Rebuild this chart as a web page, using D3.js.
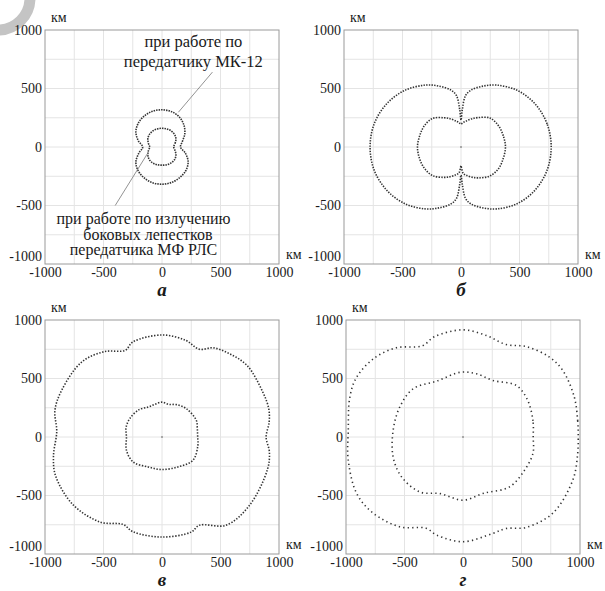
<!DOCTYPE html>
<html>
<head>
<meta charset="utf-8">
<script src="https://cdn.jsdelivr.net/npm/d3@7"></script>
</head>
<body style="margin:0">
<div id="chart"></div>
<script>
// axis values, km
var tickValues = [-1000, -500, 0, 500, 1000];
var gridValues = [-750, -500, -250, 0, 250, 500, 750];
var panelLetters = ["а", "б", "в", "г"];
var unitLabel = "км";
var origin = [[0, 0]];

// panel а: zone boundaries, polar angle (deg) -> range (km)
var aDeg = [0, 15, 30, 45, 60, 75, 90, 105, 120, 135, 150, 165, 180, 195, 210, 225, 240, 255, 270, 285, 300, 315, 330, 345];
var aOuterKm = [158, 180, 225, 265, 296, 313, 318, 316, 305, 287, 258, 210, 165, 205, 258, 288, 305, 316, 318, 314, 302, 287, 258, 208];
var aInnerKm = [100, 115, 138, 152, 158, 160, 160, 160, 158, 152, 140, 120, 105, 120, 140, 153, 158, 157, 155, 157, 157, 152, 138, 115];

// panel б
var bDeg = [0, 15, 30, 45, 60, 70, 80, 85, 88, 90, 92, 95, 100, 110, 120, 135, 150, 165, 180, 195, 210, 225, 240, 250, 260, 265, 268, 270, 272, 275, 280, 290, 300, 315, 330, 345];
var bOuterKm = [771, 762, 733, 683, 611, 554, 494, 440, 320, 230, 320, 440, 494, 554, 611, 683, 735, 768, 777, 768, 735, 683, 611, 554, 494, 440, 320, 240, 320, 440, 494, 554, 611, 683, 733, 762];
var bInnerKm = [380, 374, 368, 350, 290, 255, 223, 210, 200, 195, 200, 210, 223, 255, 288, 345, 362, 366, 372, 368, 362, 345, 300, 270, 240, 225, 190, 160, 190, 228, 244, 275, 305, 350, 370, 374];

// panel в
var vOuterDeg = [0, 8, 15, 24, 40, 51, 60, 67, 76, 90, 107, 113, 124, 137, 155, 166, 177, 190, 200, 217, 234, 246, 253, 270, 287, 293, 306, 322, 343, 352];
var vOuterKm = [890, 925, 944, 943, 950, 916, 880, 815, 850, 872, 850, 805, 880, 939, 946, 943, 901, 942, 968, 956, 899, 818, 847, 855, 850, 819, 932, 949, 943, 927];
var vInnerDeg = [0, 15, 26, 49, 66, 78, 90, 103, 115, 130, 150, 165, 180, 200, 221, 245, 270, 298, 323, 347];
var vInnerKm = [305, 312, 326, 319, 303, 285, 298, 285, 282, 305, 317, 318, 304, 324, 326, 282, 278, 290, 331, 315];

// panel г
var gOuterDeg = [0, 8, 20, 34, 43, 55, 65, 77, 90, 106, 114, 127, 139, 151, 161, 177, 191, 208, 220, 235, 248, 255, 270, 287, 295, 305, 320, 339, 352];
var gOuterKm = [985, 990, 1011, 1025, 1005, 943, 872, 890, 916, 891, 853, 954, 1017, 1043, 1024, 982, 1000, 1029, 1007, 938, 841, 868, 895, 863, 864, 943, 1007, 1008, 990];
var gInnerDeg = [0, 13, 30, 44, 62, 78, 92, 115, 136, 155, 175, 196, 213, 232, 248, 270, 290, 313, 332, 347];
var gInnerKm = [600, 614, 636, 634, 547, 552, 554, 528, 593, 598, 600, 621, 626, 597, 522, 540, 512, 583, 598, 614];

// annotation text for panel а
var noteTop = ["при работе по", "передатчику МК-12"];
var noteBottom = ["при работе по излучению", "боковых лепестков", "передатчика МФ РЛС"];

var serif = "'Liberation Serif'";

var panels = [
    { left: 45,  top: 30,  curves: [[aDeg, aOuterKm], [aDeg, aInnerKm]], dash: "1.5,1", dot: false },
    { left: 344, top: 30,  curves: [[bDeg, bOuterKm], [bDeg, bInnerKm]], dash: "1.4,1.3", dot: true },
    { left: 45,  top: 320, curves: [[vOuterDeg, vOuterKm], [vInnerDeg, vInnerKm]], dash: "1.4,1.6", dot: true },
    { left: 346, top: 320, curves: [[gOuterDeg, gOuterKm], [gInnerDeg, gInnerKm]], dash: "1.3,3.2", dot: true }
];

var size = 234;

var svg = d3.select("#chart").append("svg")
    .attr("width", 605)
    .attr("height", 591);

// faint scan mark in the corner
svg.append("circle")
    .attr("cx", -2).attr("cy", -2).attr("r", 32)
    .attr("fill", "none")
    .attr("stroke", "#c4c4c4")
    .attr("stroke-width", 11);

function toXY(deg, km) {
    return deg.map(function(d, i) {
        var t = d * Math.PI / 180;
        return [km[i] * Math.cos(t), km[i] * Math.sin(t)];
    });
}

function styleText(sel, px) {
    return sel
        .style("font-family", serif)
        .style("font-size", px + "px")
        .attr("fill", "#1a1a1a");
}

panels.forEach(function(p, pi) {
    var x = d3.scaleLinear().domain([-1000, 1000]).range([0, size]);
    var y = d3.scaleLinear().domain([-1000, 1000]).range([size, 0]);

    var g = svg.append("g")
        .attr("transform", `translate(${p.left}, ${p.top})`);

    // grid
    g.selectAll(".gx").data(gridValues).enter().append("line")
        .attr("x1", d => x(d)).attr("x2", d => x(d))
        .attr("y1", 0).attr("y2", size)
        .attr("stroke", "#e4e4e4").attr("stroke-width", 1);
    g.selectAll(".gy").data(gridValues).enter().append("line")
        .attr("y1", d => y(d)).attr("y2", d => y(d))
        .attr("x1", 0).attr("x2", size)
        .attr("stroke", "#e4e4e4").attr("stroke-width", 1);

    // frame
    g.append("rect")
        .attr("x", 0).attr("y", 0)
        .attr("width", size).attr("height", size)
        .attr("fill", "none")
        .attr("stroke", "#9a9a9a")
        .attr("stroke-width", 1);

    // axes
    var yAxis = g.append("g")
        .call(d3.axisLeft(y).tickValues(tickValues).tickFormat(d => String(d)).tickSize(0).tickPadding(3));
    var xAxis = g.append("g")
        .attr("transform", `translate(0, ${size})`)
        .call(d3.axisBottom(x).tickValues(tickValues).tickFormat(d => String(d)).tickSize(0).tickPadding(3));
    [xAxis, yAxis].forEach(function(ax) {
        ax.select(".domain").remove();
        ax.attr("font-family", null).attr("font-size", null);
        styleText(ax.selectAll("text"), 14);
    });
    // -1000 on the y axis sits a little higher
    yAxis.selectAll(".tick text").filter(d => d === -1000).attr("dy", "-0.25em");

    // units
    styleText(g.append("text"), 14).attr("x", 6).attr("y", -8).text(unitLabel);
    styleText(g.append("text"), 14).attr("x", size + 7).attr("y", size - 5).text(unitLabel);

    // panel letter
    styleText(g.append("text"), 19)
        .attr("x", x(0)).attr("y", size + 32)
        .attr("text-anchor", "middle")
        .style("font-weight", "bold")
        .style("font-style", "italic")
        .text(panelLetters[pi]);

    // zone boundaries
    var line = d3.line()
        .x(d => x(d[0]))
        .y(d => y(d[1]))
        .curve(d3.curveCatmullRomClosed);

    p.curves.forEach(function(c) {
        g.append("path")
            .attr("d", line(toXY(c[0], c[1])))
            .attr("fill", "none")
            .attr("stroke", "#333")
            .attr("stroke-width", 1.6)
            .attr("stroke-dasharray", p.dash);
    });

    if (p.dot) {
        g.selectAll(".origin").data(origin).enter().append("circle")
            .attr("cx", d => x(d[0])).attr("cy", d => y(d[1]))
            .attr("r", 0.8)
            .attr("fill", "#555");
    }

    // annotations for panel а
    if (pi === 0) {
        g.append("line")
            .attr("x1", x(431)).attr("y1", y(640))
            .attr("x2", x(140)).attr("y2", y(297))
            .attr("stroke", "#777").attr("stroke-width", 0.8);
        g.append("line")
            .attr("x1", x(-117)).attr("y1", y(-45))
            .attr("x2", x(-400)).attr("y2", y(-500))
            .attr("stroke", "#777").attr("stroke-width", 0.8);

        styleText(g.selectAll(".noteTop").data(noteTop).enter().append("text"), 16.5)
            .attr("x", x(268))
            .attr("y", (d, i) => y(854) + i * 20)
            .attr("text-anchor", "middle")
            .text(d => d);
        styleText(g.selectAll(".noteBottom").data(noteBottom).enter().append("text"), 16)
            .attr("x", (d, i) => x(i === 1 ? -120 : -158))
            .attr("y", (d, i) => y(-662) + i * 15.5)
            .attr("text-anchor", "middle")
            .text(d => d);
    }
});
</script>
</body>
</html>
